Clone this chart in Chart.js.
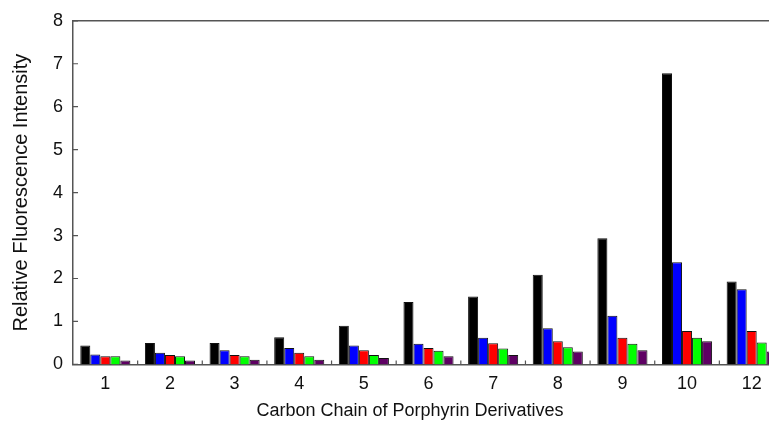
<!DOCTYPE html>
<html>
<head>
<meta charset="utf-8">
<script src="https://cdn.jsdelivr.net/npm/chart.js@4"></script>
<style>
html,body{margin:0;padding:0;background:#fff;overflow:hidden;}
#wrap{position:relative;width:800px;height:423px;}
</style>
</head>
<body>
<div id="wrap"><canvas id="c"></canvas></div>
<script>
const categories = ['1','2','3','4','5','6','7','8','9','10','12'];
const seriesBlack  = [0.44,0.50,0.50,0.63,0.90,1.45,1.58,2.09,2.94,6.78,1.93];
const seriesBlue   = [0.23,0.27,0.33,0.38,0.44,0.48,0.62,0.84,1.13,2.38,1.75];
const seriesRed    = [0.19,0.22,0.22,0.27,0.33,0.38,0.49,0.54,0.62,0.78,0.78];
const seriesGreen  = [0.19,0.19,0.19,0.19,0.22,0.32,0.37,0.40,0.48,0.62,0.51];
const seriesPurple = [0.09,0.09,0.11,0.11,0.15,0.19,0.22,0.30,0.33,0.54,0.30];
const yTicks = [0,1,2,3,4,5,6,7,8];
const xTitle = 'Carbon Chain of Porphyrin Derivatives';
const yTitle = 'Relative Fluorescence Intensity';

const colors = ['#000000','#0000ff','#ff0000','#00ff00','#5e0063'];
const all = [seriesBlack, seriesBlue, seriesRed, seriesGreen, seriesPurple];
const FONT = '"Liberation Sans", Arial, sans-serif';

const frame = {
  id:'frame',
  afterDraw(chart){
    const {ctx, chartArea:a, scales:{x,y}} = chart;
    ctx.save();
    ctx.strokeStyle = '#555';
    ctx.lineWidth = 1.5;
    ctx.beginPath();
    ctx.moveTo(a.left, a.top); ctx.lineTo(a.right+20, a.top);
    ctx.stroke();
    ctx.lineWidth = 1.2;
    ctx.beginPath();
    yTicks.forEach(v=>{ const py = y.getPixelForValue(v); ctx.moveTo(a.left, py); ctx.lineTo(a.left+5, py); });
    for(let i=0;i<categories.length-1;i++){
      const px = (x.getPixelForValue(i)+x.getPixelForValue(i+1))/2;
      ctx.moveTo(px, a.bottom); ctx.lineTo(px, a.bottom-4);
    }
    ctx.stroke();
    ctx.fillStyle = '#111';
    ctx.font = '18px ' + FONT;
    ctx.textAlign = 'center';
    ctx.textBaseline = 'middle';
    ctx.fillText(xTitle, 410, 411);
    ctx.restore();
  }
};

new Chart(document.getElementById('c'), {
  type:'bar',
  data:{
    labels:categories,
    datasets: all.map((d,i)=>({data:d, backgroundColor:colors[i], borderColor:'#111', borderWidth:1, borderSkipped:'bottom'}))
  },
  options:{
    responsive:true, maintainAspectRatio:false, animation:false,
    layout:{padding:{left:9, right:16, top:13, bottom:19}},
    plugins:{legend:{display:false}, tooltip:{enabled:false}},
    datasets:{bar:{categoryPercentage:0.775, barPercentage:1}},
    scales:{
      x:{
        grid:{display:false, drawTicks:false},
        border:{display:true, color:'#555', width:1.5},
        ticks:{color:'#111', font:{family:FONT, size:18}, padding:9}
      },
      y:{
        min:0, max:8,
        afterBuildTicks(s){ s.ticks = yTicks.map(v=>({value:v})); },
        grid:{display:false, drawTicks:false},
        border:{display:true, color:'#555', width:1.5},
        ticks:{color:'#111', font:{family:FONT, size:18}, padding:10},
        title:{display:true, text:yTitle, color:'#111', font:{family:FONT, size:20}, padding:{top:0,bottom:10}}
      }
    }
  },
  plugins:[frame]
});
</script>
</body>
</html>
